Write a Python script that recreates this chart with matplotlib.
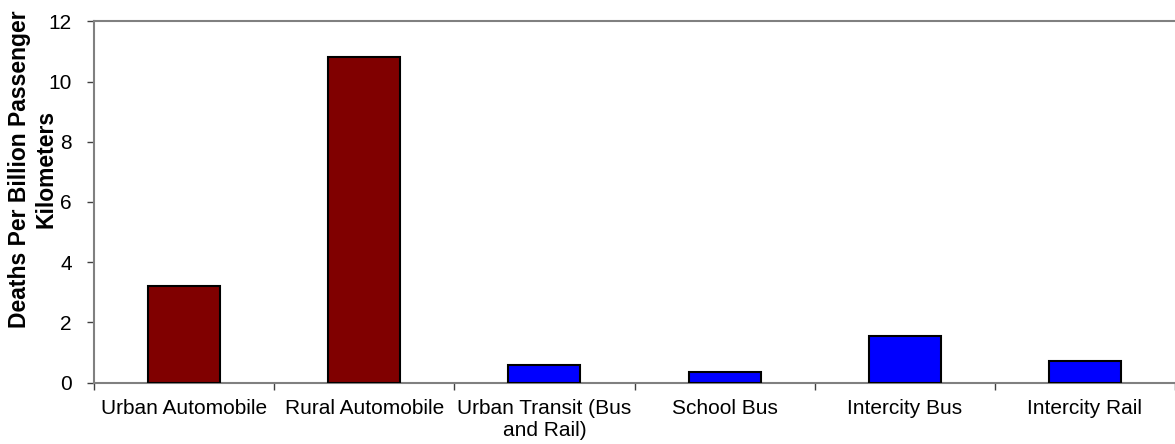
import matplotlib
matplotlib.use("Agg")
import matplotlib.pyplot as plt
from matplotlib.ticker import FixedLocator

plt.rcParams['font.family'] = ['Liberation Sans', 'DejaVu Sans']

categories = ["Urban Automobile", "Rural Automobile", "Urban Transit (Bus\nand Rail)",
              "School Bus", "Intercity Bus", "Intercity Rail"]
deaths = [3.2, 10.8, 0.57, 0.34, 1.56, 0.73]
bar_colors = ["#800000", "#800000", "#0000FF", "#0000FF", "#0000FF", "#0000FF"]

fig = plt.figure(figsize=(11.75, 4.44), dpi=100)
ax = fig.add_axes([94 / 1175, 1 - 382.5 / 444, 1 - 94 / 1175, (382.5 - 21.3) / 444])

x = list(range(len(categories)))
ax.bar(x, deaths, width=0.4, color=bar_colors, edgecolor="black", linewidth=1.5, zorder=3)

ax.set_xlim(-0.5, len(categories) - 0.5)
ax.set_ylim(0, 12)
ax.set_yticks(range(0, 13, 2))

# category labels centred, tick marks at the boundaries
ax.set_xticks(x)
ax.set_xticklabels(categories, fontsize=15)
ax.tick_params(axis="x", which="major", length=0, pad=12)
ax.xaxis.set_minor_locator(FixedLocator([i - 0.5 for i in range(len(categories) + 1)]))
ax.tick_params(axis="x", which="minor", length=5, width=1, color="#404040", direction="out")
ax.tick_params(axis="y", length=5, width=1, color="#404040", pad=11, labelsize=15)

for s in ["left", "bottom", "top"]:
    ax.spines[s].set_color("#808080")
    ax.spines[s].set_linewidth(1.5)
ax.spines["right"].set_visible(False)

# y label, two lines drawn separately so each sits at its own spot
fig.text(20 / 1175, 1 - 169 / 444, "Deaths Per Billion Passenger", rotation=90,
         ha="center", va="center", fontsize=16.5, fontweight="bold")
fig.text(46 / 1175, 1 - 169 / 444, "Kilometers", rotation=90,
         ha="center", va="center", fontsize=16.5, fontweight="bold")

fig.savefig("out.png", dpi=100)
